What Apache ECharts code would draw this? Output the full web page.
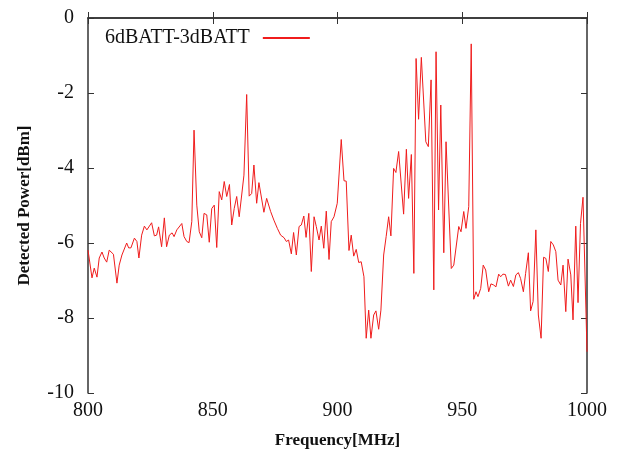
<!DOCTYPE html>
<html>
<head>
<meta charset="utf-8">
<script src="https://cdn.jsdelivr.net/npm/echarts@6/dist/echarts.min.js"></script>
<style>
  html, body { margin: 0; padding: 0; background: #fff; }
  #chart { width: 618px; height: 455px; }
</style>
</head>
<body>
<div id="chart"></div>
<script>
// values
var freq = [
  800.0, 801.6, 802.5, 803.6, 804.5, 805.6, 806.5, 807.5, 808.5, 810.2,
  811.6, 812.5, 813.6, 814.4, 815.5, 816.3, 817.2, 818.6, 819.6, 820.4,
  821.5, 822.6, 823.6, 825.5, 826.6, 827.5, 828.3, 829.5, 830.6, 831.5,
  832.6, 833.7, 834.5, 835.6, 837.6, 838.5, 839.6, 840.5, 841.6, 842.5,
  843.6, 844.6, 845.6, 846.5, 847.6, 848.6, 849.6, 850.6, 851.6, 852.6,
  853.6, 854.6, 855.6, 856.7, 857.6, 858.6, 859.6, 860.6, 861.6, 862.5,
  863.6, 864.6, 865.6, 866.5, 867.6, 868.5, 870.5, 871.6, 873.2, 874.5,
  875.9, 877.2, 878.6, 879.5, 880.4, 881.5, 882.4, 883.5, 884.6, 885.5,
  886.5, 887.4, 888.5, 889.5, 890.6, 891.5, 892.6, 893.5, 894.5, 895.5,
  896.6, 897.5, 898.6, 899.9, 901.5, 902.6, 903.5, 904.6, 905.5, 906.5,
  907.5, 908.5, 909.5, 910.6, 911.5, 912.5, 913.4, 914.5, 915.4, 916.5,
  917.4, 918.5, 919.5, 920.5, 921.4, 922.5, 923.4, 924.5, 926.5, 927.6,
  928.5, 929.6, 930.6, 931.5, 932.5, 933.6, 935.4, 936.4, 937.5, 938.6,
  939.5, 940.5, 941.4, 942.6, 943.5, 945.6, 946.6, 948.6, 949.5, 950.6,
  951.5, 952.6, 953.6, 954.6, 955.5, 956.3, 957.4, 958.4, 959.4, 960.6,
  961.5, 962.6, 963.5, 964.6, 965.4, 966.3, 967.3, 968.5, 969.4, 970.5,
  971.5, 972.5, 973.4, 974.5, 975.4, 976.5, 977.4, 978.4, 979.5, 980.5,
  981.6, 982.6, 983.5, 984.5, 985.5, 986.5, 987.5, 988.4, 989.5, 990.4,
  991.5, 992.4, 993.5, 994.4, 995.5, 996.4, 997.4, 998.4, 1000.0
];
var power = [
  -6.19, -6.93, -6.67, -6.91, -6.40, -6.24, -6.40, -6.51, -6.19, -6.30,
  -7.07, -6.59, -6.32, -6.37, -6.00, -6.13, -6.13, -5.87, -5.96, -6.40,
  -5.79, -5.55, -5.65, -5.46, -5.81, -5.79, -5.57, -6.10, -5.33, -6.10,
  -5.79, -5.73, -5.83, -5.65, -5.48, -5.83, -5.96, -5.99, -5.43, -2.99,
  -4.99, -5.70, -5.86, -5.21, -5.25, -5.98, -5.08, -4.99, -6.12, -4.63,
  -4.85, -4.36, -4.76, -4.44, -5.52, -5.08, -4.76, -5.30, -4.72, -4.19,
  -2.04, -4.75, -4.68, -3.92, -4.94, -4.39, -5.18, -4.81, -5.16, -5.39,
  -5.61, -5.79, -5.86, -5.96, -5.92, -6.29, -5.72, -6.32, -5.56, -5.52,
  -5.28, -5.85, -5.21, -6.76, -5.30, -5.56, -5.92, -5.55, -6.14, -5.15,
  -6.44, -5.43, -5.30, -4.94, -3.24, -4.34, -4.35, -6.20, -5.79, -6.35,
  -6.17, -6.52, -6.50, -6.90, -8.54, -7.79, -8.54, -7.92, -7.81, -8.30,
  -7.79, -6.32, -5.83, -5.30, -5.81, -4.01, -4.12, -3.56, -5.23, -3.50,
  -4.81, -3.64, -6.81, -1.08, -2.70, -1.05, -3.30, -3.43, -1.65, -7.25,
  -0.90, -5.12, -2.32, -6.26, -3.30, -6.68, -6.59, -5.56, -5.70, -5.16,
  -5.61, -5.03, -0.69, -7.50, -7.30, -7.43, -7.21, -6.59, -6.72, -7.30,
  -7.09, -7.12, -7.17, -6.83, -6.90, -6.83, -6.84, -7.15, -6.99, -7.16,
  -6.85, -6.79, -6.95, -7.30, -6.81, -6.26, -7.81, -7.56, -5.65, -7.92,
  -8.54, -6.38, -6.41, -6.76, -5.96, -6.05, -6.23, -6.99, -7.12, -6.59,
  -7.83, -6.43, -6.85, -8.05, -5.55, -7.59, -5.48, -4.78, -8.90
];
var seriesName = '6dBATT-3dBATT';

var serif = '"Liberation Serif", "DejaVu Serif", serif';
var axisColor = '#333';

var chart = echarts.init(document.getElementById('chart'));
var option = {
  animation: false,
  backgroundColor: '#fff',
  grid: { left: 88, right: 31, top: 18, bottom: 62 },
  legend: {
    data: [seriesName],
    left: 100,
    top: 23,
    align: 'right',
    itemWidth: 47,
    itemHeight: 2,
    icon: 'rect',
    textStyle: { fontFamily: serif, fontSize: 20, color: '#111', padding: [0, 8, 0, 0] }
  },
  xAxis: [{
    type: 'value',
    min: 800,
    max: 1000,
    interval: 50,
    name: 'Frequency[MHz]',
    nameLocation: 'middle',
    nameGap: 39,
    nameTextStyle: { fontFamily: serif, fontSize: 17, fontWeight: 'bold', color: '#111' },
    axisLine: { show: true, lineStyle: { color: axisColor, width: 1.5 } },
    axisTick: { show: true, inside: true, length: 6, lineStyle: { color: axisColor } },
    axisLabel: { fontFamily: serif, fontSize: 20, color: '#111', margin: 8,
      formatter: function (v) { return String(v); } },
    splitLine: { show: false }
  }, {
    type: 'value',
    position: 'top',
    min: 800,
    max: 1000,
    interval: 50,
    axisLine: { show: true, lineStyle: { color: axisColor, width: 1.5 } },
    axisTick: { show: true, inside: true, length: 6, lineStyle: { color: axisColor } },
    axisLabel: { show: false },
    splitLine: { show: false }
  }],
  yAxis: [{
    type: 'value',
    min: -10,
    max: 0,
    interval: 2,
    name: 'Detected Power[dBm]',
    nameLocation: 'middle',
    nameGap: 55,
    nameTextStyle: { fontFamily: serif, fontSize: 17, fontWeight: 'bold', color: '#111' },
    axisLine: { show: true, lineStyle: { color: axisColor, width: 1.5 } },
    axisTick: { show: true, inside: true, length: 6, lineStyle: { color: axisColor } },
    axisLabel: { fontFamily: serif, fontSize: 20, color: '#111', margin: 14 },
    splitLine: { show: false }
  }, {
    type: 'value',
    position: 'right',
    min: -10,
    max: 0,
    interval: 2,
    axisLine: { show: true, lineStyle: { color: axisColor, width: 1.5 } },
    axisTick: { show: true, inside: true, length: 6, lineStyle: { color: axisColor } },
    axisLabel: { show: false },
    splitLine: { show: false }
  }],
  series: [{
    name: seriesName,
    type: 'line',
    showSymbol: false,
    symbol: 'none',
    color: '#f01c1c',
    lineStyle: { width: 1, color: '#f01c1c' },
    data: freq.map(function (f, i) { return [f, power[i]]; })
  }]
};
chart.setOption(option);
</script>
</body>
</html>
